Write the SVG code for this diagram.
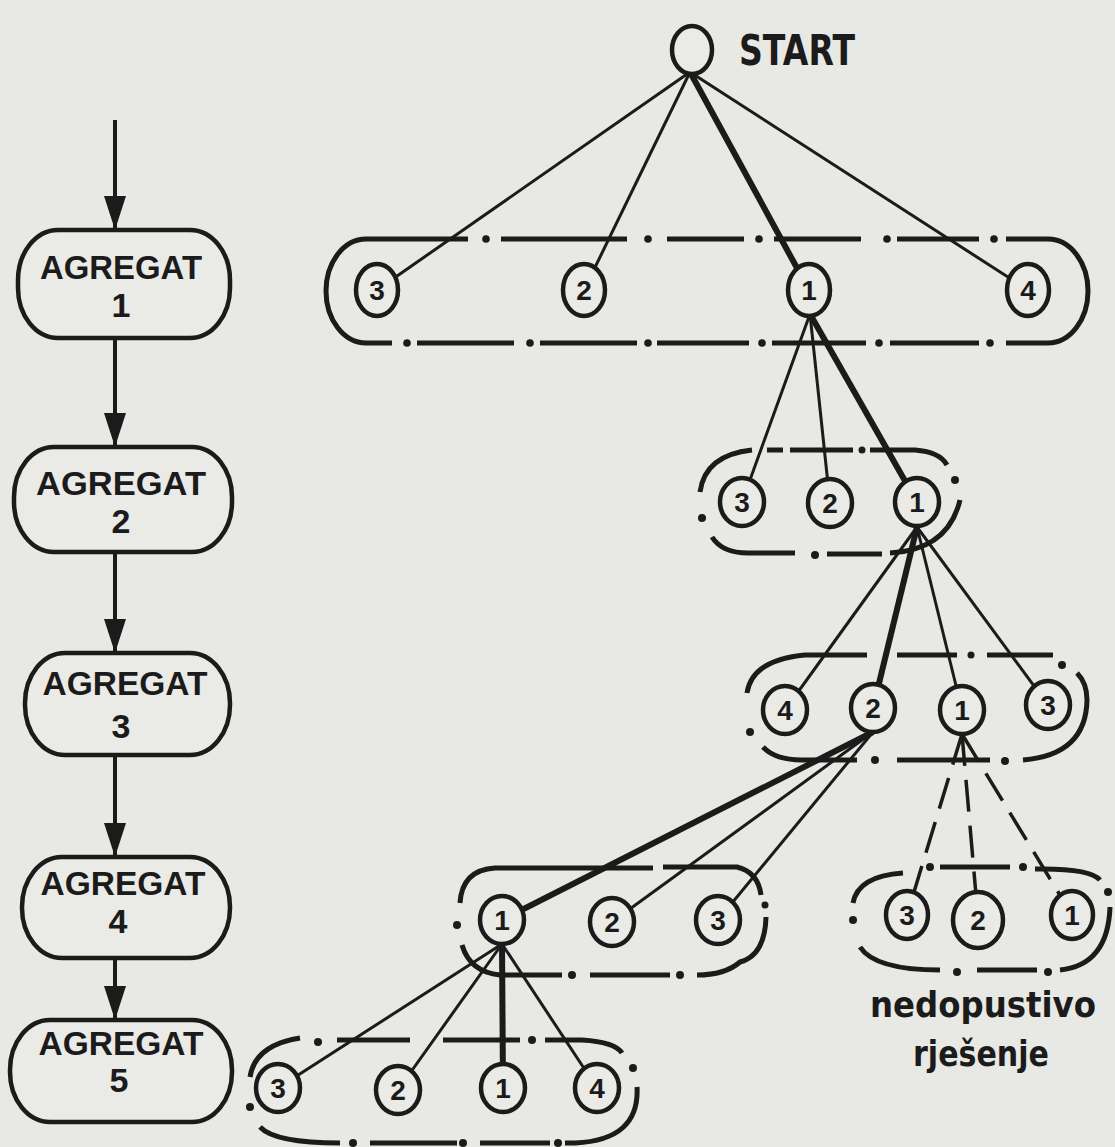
<svg xmlns="http://www.w3.org/2000/svg" width="1115" height="1147" viewBox="0 0 1115 1147">
<defs>
<style>
.bg{fill:#e8e8e4}
.box{fill:#eaeae7;stroke:#1b1b1b;stroke-width:4.5}
.bt{font-family:"Liberation Sans",Arial,sans-serif;font-weight:bold;font-size:34px;fill:#1b1b1b;text-anchor:middle}
.nd{fill:#eaeae7;stroke:#1b1b1b;stroke-width:4.5}
.nt{font-family:"Liberation Sans",Arial,sans-serif;font-weight:bold;font-size:28px;fill:#1b1b1b;text-anchor:middle}
.grp{fill:none;stroke:#1b1b1b;stroke-width:5}
.dot{fill:#1b1b1b}
.ln{stroke:#1b1b1b;stroke-width:3;fill:none}
.th{stroke:#1b1b1b;stroke-width:6;fill:none}
.ds{stroke:#1b1b1b;stroke-width:3.5;fill:none;stroke-dasharray:32 14}
.ar{stroke:#1b1b1b;stroke-width:4;fill:none}
.lab{font-family:"DejaVu Sans","Liberation Sans",sans-serif;font-weight:bold;fill:#1b1b1b;text-anchor:middle}
</style>
<marker id="ah" viewBox="0 0 34 22" refX="34" refY="11" markerWidth="34" markerHeight="22" markerUnits="userSpaceOnUse" orient="auto">
<path d="M0,0 L34,11 L0,22 Z" fill="#1b1b1b"/>
</marker>
</defs>
<rect class="bg" x="0" y="0" width="1115" height="1147"/>

<!-- left column arrows -->
<g id="flow-arrows">
<line class="ar" x1="115" y1="120" x2="115" y2="230" marker-end="url(#ah)"/>
<line class="ar" x1="115" y1="338" x2="115" y2="447" marker-end="url(#ah)"/>
<line class="ar" x1="115" y1="552" x2="115" y2="653" marker-end="url(#ah)"/>
<line class="ar" x1="115" y1="755" x2="115" y2="857" marker-end="url(#ah)"/>
<line class="ar" x1="115" y1="958" x2="115" y2="1020" marker-end="url(#ah)"/>
</g>

<g id="agregat1"><rect class="box" x="18" y="230" width="212" height="108" rx="40" ry="50"/>
<text class="bt" x="121" y="279" textLength="162" lengthAdjust="spacingAndGlyphs">AGREGAT</text>
<text class="bt" x="121" y="317">1</text></g>
<g id="agregat2"><rect class="box" x="14" y="447" width="218" height="105" rx="40" ry="50"/>
<text class="bt" x="121" y="495" textLength="170" lengthAdjust="spacingAndGlyphs">AGREGAT</text>
<text class="bt" x="121" y="533">2</text></g>
<g id="agregat3"><rect class="box" x="25" y="653" width="205" height="102" rx="40" ry="50"/>
<text class="bt" x="125" y="695" textLength="165" lengthAdjust="spacingAndGlyphs">AGREGAT</text>
<text class="bt" x="121" y="738">3</text></g>
<g id="agregat4"><rect class="box" x="22" y="857" width="208" height="101" rx="40" ry="50"/>
<text class="bt" x="123" y="895" textLength="165" lengthAdjust="spacingAndGlyphs">AGREGAT</text>
<text class="bt" x="118" y="933">4</text></g>
<g id="agregat5"><rect class="box" x="10" y="1020" width="222" height="102" rx="40" ry="50"/>
<text class="bt" x="121" y="1055" textLength="165" lengthAdjust="spacingAndGlyphs">AGREGAT</text>
<text class="bt" x="119" y="1092">5</text></g>

<!-- group outlines (dash-dot) -->
<g id="group-level1">
<path class="grp" d="M468,239 H366 A40 52 0 0 0 366,343 H392 M1006,239 H1048 A40 52 0 0 1 1048,343 H1006 M501,239 H627 M667,239 H744 M774,239 H861 M897,239 H979 M417,343 H514 M540,343 H637 M657,343 H749 M772,343 H866 M890,343 H979"/>
<circle class="dot" cx="486" cy="239" r="3.8"/><circle class="dot" cx="648" cy="239" r="3.8"/><circle class="dot" cx="759" cy="239" r="3.8"/><circle class="dot" cx="887" cy="239" r="3.8"/><circle class="dot" cx="994" cy="239" r="3.8"/>
<circle class="dot" cx="407" cy="343" r="3.8"/><circle class="dot" cx="530" cy="343" r="3.8"/><circle class="dot" cx="648" cy="343" r="3.8"/><circle class="dot" cx="762" cy="343" r="3.8"/><circle class="dot" cx="879" cy="343" r="3.8"/><circle class="dot" cx="990" cy="343" r="3.8"/>
</g>
<g id="group-level2">
<path class="grp" d="M752,450 Q705,455 700,492 M712,537 Q722,553 748,553 H795 M827,554 H882 M890,553 Q948,550 960,500 M767,450 H783 M790,450 H853 M870,450 H915 Q940,452 947,465"/>
<circle class="dot" cx="702" cy="518" r="4"/><circle class="dot" cx="815" cy="555" r="4"/><circle class="dot" cx="955" cy="480" r="4"/><circle class="dot" cx="862" cy="450" r="3.5"/>
</g>
<g id="group-level3">
<path class="grp" d="M867,655 H805 Q752,660 747,693 M763,747 Q775,760 802,760 H857 M897,760 H990 M1023,760 Q1086,755 1087,700 Q1087,683 1077,673 M897,655 H957 M987,655 H1053"/>
<circle class="dot" cx="750" cy="732" r="4"/><circle class="dot" cx="875" cy="760" r="4"/><circle class="dot" cx="1005" cy="761" r="4"/><circle class="dot" cx="1062" cy="665" r="4"/><circle class="dot" cx="971" cy="655" r="3.5"/>
</g>
<g id="group-level4">
<path class="grp" d="M460,903 Q462,870 495,868 H653 M663,867 H737 Q758,872 761,895 M766,917 Q765,955 740,962 Q725,975 697,975 M462,945 Q470,972 500,975 H562 M590,975 H670"/>
<circle class="dot" cx="457" cy="925" r="4"/><circle class="dot" cx="765" cy="905" r="3.5"/><circle class="dot" cx="572" cy="975" r="4"/><circle class="dot" cx="680" cy="975" r="4"/>
</g>
<g id="group-level5">
<path class="grp" d="M250,1077 Q255,1045 300,1038 M337,1040 H410 M443,1040 H520 M545,1040 H582 Q615,1042 622,1053 M637,1087 Q640,1140 575,1143 H565 M260,1127 Q275,1143 340,1143 M370,1143 H457 M480,1143 H550"/>
<circle class="dot" cx="318" cy="1042" r="4"/><circle class="dot" cx="532" cy="1040" r="4"/><circle class="dot" cx="633" cy="1068" r="4"/><circle class="dot" cx="250" cy="1107" r="4"/><circle class="dot" cx="353" cy="1143" r="4"/><circle class="dot" cx="463" cy="1143" r="4"/><circle class="dot" cx="558" cy="1143" r="4"/>
</g>
<g id="group-infeasible">
<path class="grp" d="M853,903 Q858,876 903,873 M940,867 H1010 M1035,869 Q1090,868 1100,880 M1110,907 Q1108,965 1060,970 M860,947 Q875,970 940,970 M977,970 H1037"/>
<circle class="dot" cx="853" cy="920" r="4"/><circle class="dot" cx="930" cy="867" r="4"/><circle class="dot" cx="1023" cy="867" r="4"/><circle class="dot" cx="1108" cy="892" r="4"/><circle class="dot" cx="957" cy="972" r="4"/><circle class="dot" cx="1048" cy="972" r="4"/>
</g>

<!-- connectors -->
<g id="connectors">
<line class="ln" x1="690" y1="72" x2="377" y2="290"/>
<line class="ln" x1="690" y1="72" x2="584" y2="290"/>
<line class="th" x1="690" y1="72" x2="809" y2="290"/>
<line class="ln" x1="690" y1="72" x2="1028" y2="290"/>
<line class="ln" x1="810" y1="314" x2="742" y2="502"/>
<line class="ln" x1="810" y1="314" x2="830" y2="503"/>
<line class="th" x1="810" y1="314" x2="917" y2="502"/>
<line class="ln" x1="917" y1="527" x2="785" y2="710"/>
<line class="th" x1="917" y1="527" x2="873" y2="708"/>
<line class="ln" x1="917" y1="527" x2="962" y2="710"/>
<line class="ln" x1="917" y1="527" x2="1048" y2="705"/>
<line class="th" x1="873" y1="732" x2="502" y2="920"/>
<line class="ln" x1="873" y1="732" x2="612" y2="922"/>
<line class="ln" x1="873" y1="732" x2="718" y2="920"/>
<line class="ds" x1="962" y1="734" x2="907" y2="915"/>
<line class="ds" x1="962" y1="734" x2="978" y2="918"/>
<line class="ds" x1="962" y1="734" x2="1072" y2="915"/>
<line class="ln" x1="502" y1="944" x2="278" y2="1088"/>
<line class="ln" x1="502" y1="944" x2="398" y2="1090"/>
<line class="th" x1="502" y1="944" x2="503" y2="1088"/>
<line class="ln" x1="502" y1="944" x2="597" y2="1088"/>
</g>

<!-- nodes -->
<g id="start"><ellipse class="nd" cx="692" cy="50" rx="20" ry="24"/>
<text class="lab" x="797" y="65" font-size="42" textLength="116" lengthAdjust="spacingAndGlyphs">START</text></g>

<g id="n1-3"><ellipse class="nd" cx="377" cy="290" rx="21" ry="26"/><text class="nt" x="377" y="300">3</text></g>
<g id="n1-2"><ellipse class="nd" cx="584" cy="290" rx="21" ry="26"/><text class="nt" x="584" y="300">2</text></g>
<g id="n1-1"><ellipse class="nd" cx="809" cy="290" rx="21" ry="26"/><text class="nt" x="809" y="300">1</text></g>
<g id="n1-4"><ellipse class="nd" cx="1028" cy="290" rx="21" ry="26"/><text class="nt" x="1028" y="300">4</text></g>

<g id="n2-3"><ellipse class="nd" cx="742" cy="502" rx="22" ry="24"/><text class="nt" x="742" y="512">3</text></g>
<g id="n2-2"><ellipse class="nd" cx="830" cy="503" rx="22" ry="24"/><text class="nt" x="830" y="513">2</text></g>
<g id="n2-1"><ellipse class="nd" cx="917" cy="502" rx="22" ry="24"/><text class="nt" x="917" y="512">1</text></g>

<g id="n3-4"><ellipse class="nd" cx="785" cy="710" rx="22" ry="24"/><text class="nt" x="785" y="720">4</text></g>
<g id="n3-2"><ellipse class="nd" cx="873" cy="708" rx="22" ry="24"/><text class="nt" x="873" y="718">2</text></g>
<g id="n3-1"><ellipse class="nd" cx="962" cy="710" rx="22" ry="24"/><text class="nt" x="962" y="720">1</text></g>
<g id="n3-3"><ellipse class="nd" cx="1048" cy="705" rx="22" ry="24"/><text class="nt" x="1048" y="715">3</text></g>

<g id="n4-1"><ellipse class="nd" cx="502" cy="920" rx="22" ry="24"/><text class="nt" x="502" y="930">1</text></g>
<g id="n4-2"><ellipse class="nd" cx="612" cy="922" rx="22" ry="24"/><text class="nt" x="612" y="932">2</text></g>
<g id="n4-3"><ellipse class="nd" cx="718" cy="920" rx="22" ry="24"/><text class="nt" x="718" y="930">3</text></g>

<g id="n5-3"><ellipse class="nd" cx="278" cy="1088" rx="22" ry="24"/><text class="nt" x="278" y="1098">3</text></g>
<g id="n5-2"><ellipse class="nd" cx="398" cy="1090" rx="22" ry="24"/><text class="nt" x="398" y="1100">2</text></g>
<g id="n5-1"><ellipse class="nd" cx="503" cy="1088" rx="22" ry="24"/><text class="nt" x="503" y="1098">1</text></g>
<g id="n5-4"><ellipse class="nd" cx="597" cy="1088" rx="22" ry="24"/><text class="nt" x="597" y="1098">4</text></g>

<g id="nf-3"><ellipse class="nd" cx="907" cy="915" rx="21" ry="24" stroke-width="5"/><text class="nt" x="907" y="925">3</text></g>
<g id="nf-2"><ellipse class="nd" cx="978" cy="920" rx="25" ry="28" stroke-width="5"/><text class="nt" x="978" y="930">2</text></g>
<g id="nf-1"><ellipse class="nd" cx="1072" cy="915" rx="21" ry="24" stroke-width="4.5"/><text class="nt" x="1072" y="925">1</text></g>

<g id="label-infeasible">
<text class="lab" x="983" y="1017" font-size="35" textLength="226" lengthAdjust="spacingAndGlyphs">nedopustivo</text>
<text class="lab" x="981" y="1066" font-size="35" textLength="136" lengthAdjust="spacingAndGlyphs">rješenje</text>
</g>
</svg>
